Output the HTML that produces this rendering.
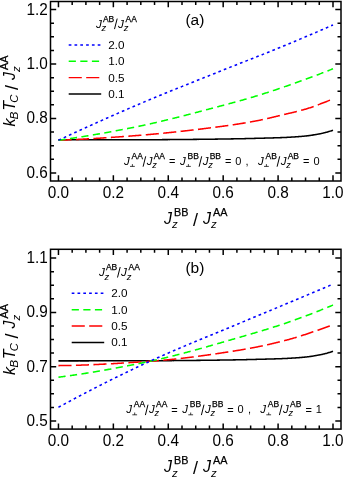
<!DOCTYPE html>
<html lang="en">
<head>
<meta charset="utf-8">
<title>Tc versus Jz ratio</title>
<style>
html,body{margin:0;padding:0;background:#fff;}
body{width:343px;height:477px;overflow:hidden;font-family:"Liberation Sans", sans-serif;}
svg{display:block;will-change:transform;}
</style>
</head>
<body>
<svg width="343" height="477" viewBox="0 0 343 477" font-family='"Liberation Sans", sans-serif' fill="#000">
<rect width="343" height="477" fill="#fff"/>
<path d="M58.45 139.83 L59.14 139.83 L59.83 139.83 L60.51 139.83 L61.20 139.83 L61.89 139.83 L62.58 139.83 L63.27 139.83 L63.95 139.83 L64.64 139.83 L65.33 139.83 L66.02 139.83 L66.71 139.83 L67.40 139.83 L68.08 139.83 L68.77 139.83 L69.46 139.83 L70.15 139.83 L70.84 139.83 L71.52 139.83 L72.21 139.83 L72.90 139.83 L73.59 139.83 L74.28 139.83 L74.96 139.83 L75.65 139.83 L76.34 139.83 L77.03 139.83 L77.72 139.82 L78.40 139.82 L79.09 139.82 L79.78 139.82 L80.47 139.82 L81.16 139.82 L81.85 139.82 L82.53 139.82 L83.22 139.82 L83.91 139.82 L84.60 139.82 L85.29 139.82 L85.97 139.82 L86.66 139.82 L87.35 139.82 L88.04 139.82 L88.73 139.81 L89.41 139.81 L90.10 139.81 L90.79 139.81 L91.48 139.81 L92.17 139.81 L92.85 139.81 L93.54 139.81 L94.23 139.81 L94.92 139.81 L95.61 139.81 L96.30 139.81 L96.98 139.80 L97.67 139.80 L98.36 139.80 L99.05 139.80 L99.74 139.80 L100.42 139.80 L101.11 139.80 L101.80 139.80 L102.49 139.80 L103.18 139.80 L103.86 139.79 L104.55 139.79 L105.24 139.79 L105.93 139.79 L106.62 139.79 L107.30 139.79 L107.99 139.79 L108.68 139.79 L109.37 139.79 L110.06 139.78 L110.75 139.78 L111.43 139.78 L112.12 139.78 L112.81 139.78 L113.50 139.78 L114.19 139.78 L114.87 139.78 L115.56 139.77 L116.25 139.77 L116.94 139.77 L117.63 139.77 L118.31 139.77 L119.00 139.77 L119.69 139.77 L120.38 139.76 L121.07 139.76 L121.75 139.76 L122.44 139.76 L123.13 139.76 L123.82 139.76 L124.51 139.76 L125.20 139.75 L125.88 139.75 L126.57 139.75 L127.26 139.75 L127.95 139.75 L128.64 139.75 L129.32 139.75 L130.01 139.74 L130.70 139.74 L131.39 139.74 L132.08 139.74 L132.76 139.74 L133.45 139.74 L134.14 139.74 L134.83 139.73 L135.52 139.73 L136.20 139.73 L136.89 139.73 L137.58 139.73 L138.27 139.73 L138.96 139.72 L139.65 139.72 L140.33 139.72 L141.02 139.72 L141.71 139.72 L142.40 139.71 L143.09 139.71 L143.77 139.71 L144.46 139.71 L145.15 139.71 L145.84 139.71 L146.53 139.70 L147.21 139.70 L147.90 139.70 L148.59 139.70 L149.28 139.70 L149.97 139.70 L150.65 139.69 L151.34 139.69 L152.03 139.69 L152.72 139.69 L153.41 139.68 L154.10 139.68 L154.78 139.68 L155.47 139.68 L156.16 139.67 L156.85 139.67 L157.54 139.67 L158.22 139.66 L158.91 139.66 L159.60 139.66 L160.29 139.65 L160.98 139.65 L161.66 139.65 L162.35 139.64 L163.04 139.64 L163.73 139.63 L164.42 139.63 L165.10 139.63 L165.79 139.62 L166.48 139.62 L167.17 139.61 L167.86 139.61 L168.55 139.60 L169.23 139.60 L169.92 139.59 L170.61 139.59 L171.30 139.58 L171.99 139.58 L172.67 139.57 L173.36 139.57 L174.05 139.56 L174.74 139.56 L175.43 139.55 L176.11 139.55 L176.80 139.54 L177.49 139.53 L178.18 139.53 L178.87 139.52 L179.55 139.52 L180.24 139.51 L180.93 139.51 L181.62 139.50 L182.31 139.49 L183.00 139.49 L183.68 139.48 L184.37 139.47 L185.06 139.47 L185.75 139.46 L186.44 139.46 L187.12 139.45 L187.81 139.44 L188.50 139.44 L189.19 139.43 L189.88 139.42 L190.56 139.42 L191.25 139.41 L191.94 139.40 L192.63 139.40 L193.32 139.39 L194.00 139.39 L194.69 139.38 L195.38 139.37 L196.07 139.37 L196.76 139.36 L197.45 139.35 L198.13 139.35 L198.82 139.34 L199.51 139.33 L200.20 139.32 L200.89 139.32 L201.57 139.31 L202.26 139.30 L202.95 139.29 L203.64 139.29 L204.33 139.28 L205.01 139.27 L205.70 139.26 L206.39 139.25 L207.08 139.25 L207.77 139.24 L208.45 139.23 L209.14 139.22 L209.83 139.21 L210.52 139.20 L211.21 139.19 L211.90 139.19 L212.58 139.18 L213.27 139.17 L213.96 139.16 L214.65 139.15 L215.34 139.14 L216.02 139.13 L216.71 139.12 L217.40 139.11 L218.09 139.10 L218.78 139.09 L219.46 139.08 L220.15 139.07 L220.84 139.06 L221.53 139.05 L222.22 139.04 L222.90 139.03 L223.59 139.02 L224.28 139.01 L224.97 139.00 L225.66 138.98 L226.35 138.97 L227.03 138.96 L227.72 138.95 L228.41 138.94 L229.10 138.93 L229.79 138.92 L230.47 138.91 L231.16 138.89 L231.85 138.88 L232.54 138.87 L233.23 138.86 L233.91 138.85 L234.60 138.83 L235.29 138.82 L235.98 138.81 L236.67 138.80 L237.35 138.79 L238.04 138.77 L238.73 138.76 L239.42 138.75 L240.11 138.73 L240.80 138.72 L241.48 138.71 L242.17 138.69 L242.86 138.68 L243.55 138.66 L244.24 138.65 L244.92 138.63 L245.61 138.62 L246.30 138.60 L246.99 138.58 L247.68 138.57 L248.36 138.55 L249.05 138.53 L249.74 138.52 L250.43 138.50 L251.12 138.48 L251.80 138.46 L252.49 138.44 L253.18 138.43 L253.87 138.41 L254.56 138.39 L255.25 138.37 L255.93 138.35 L256.62 138.34 L257.31 138.32 L258.00 138.30 L258.69 138.28 L259.37 138.26 L260.06 138.25 L260.75 138.23 L261.44 138.21 L262.13 138.19 L262.81 138.18 L263.50 138.16 L264.19 138.14 L264.88 138.12 L265.57 138.10 L266.25 138.09 L266.94 138.07 L267.63 138.05 L268.32 138.03 L269.01 138.01 L269.70 137.99 L270.38 137.97 L271.07 137.95 L271.76 137.93 L272.45 137.91 L273.14 137.89 L273.82 137.87 L274.51 137.85 L275.20 137.83 L275.89 137.81 L276.58 137.78 L277.26 137.76 L277.95 137.74 L278.64 137.71 L279.33 137.69 L280.02 137.66 L280.70 137.64 L281.39 137.61 L282.08 137.58 L282.77 137.56 L283.46 137.53 L284.15 137.50 L284.83 137.46 L285.52 137.43 L286.21 137.40 L286.90 137.37 L287.59 137.33 L288.27 137.29 L288.96 137.26 L289.65 137.22 L290.34 137.18 L291.03 137.14 L291.71 137.10 L292.40 137.06 L293.09 137.01 L293.78 136.97 L294.47 136.93 L295.15 136.88 L295.84 136.83 L296.53 136.79 L297.22 136.74 L297.91 136.69 L298.60 136.63 L299.28 136.58 L299.97 136.52 L300.66 136.47 L301.35 136.41 L302.04 136.35 L302.72 136.28 L303.41 136.22 L304.10 136.15 L304.79 136.08 L305.48 136.01 L306.16 135.94 L306.85 135.86 L307.54 135.78 L308.23 135.70 L308.92 135.61 L309.60 135.52 L310.29 135.42 L310.98 135.32 L311.67 135.22 L312.36 135.11 L313.05 135.00 L313.73 134.89 L314.42 134.77 L315.11 134.66 L315.80 134.54 L316.49 134.41 L317.17 134.29 L317.86 134.16 L318.55 134.03 L319.24 133.91 L319.93 133.77 L320.61 133.64 L321.30 133.49 L321.99 133.35 L322.68 133.19 L323.37 133.04 L324.05 132.87 L324.74 132.70 L325.43 132.53 L326.12 132.35 L326.81 132.17 L327.50 131.97 L328.18 131.77 L328.87 131.56 L329.56 131.35 L330.25 131.12 L330.94 130.89 L331.62 130.66 L332.31 130.42 L333.00 130.17" fill="none" stroke="#000000" stroke-width="1.55"/>
<path d="M58.45 140.24 L59.14 140.21 L59.83 140.19 L60.51 140.16 L61.20 140.14 L61.89 140.11 L62.58 140.08 L63.27 140.05 L63.95 140.02 L64.64 140.00 L65.33 139.97 L66.02 139.94 L66.71 139.91 L67.40 139.88 L68.08 139.85 L68.77 139.82 L69.46 139.79 L70.15 139.76 L70.84 139.73 L71.52 139.69 L72.21 139.66 L72.90 139.63 L73.59 139.60 L74.28 139.56 L74.96 139.53 L75.65 139.50 L76.34 139.46 L77.03 139.43 L77.72 139.40 L78.40 139.36 L79.09 139.33 L79.78 139.29 L80.47 139.26 L81.16 139.22 L81.85 139.18 L82.53 139.15 L83.22 139.11 L83.91 139.07 L84.60 139.04 L85.29 139.00 L85.97 138.96 L86.66 138.92 L87.35 138.88 L88.04 138.85 L88.73 138.81 L89.41 138.77 L90.10 138.73 L90.79 138.69 L91.48 138.65 L92.17 138.61 L92.85 138.57 L93.54 138.53 L94.23 138.49 L94.92 138.44 L95.61 138.40 L96.30 138.36 L96.98 138.32 L97.67 138.28 L98.36 138.23 L99.05 138.19 L99.74 138.15 L100.42 138.11 L101.11 138.06 L101.80 138.02 L102.49 137.97 L103.18 137.93 L103.86 137.89 L104.55 137.84 L105.24 137.80 L105.93 137.75 L106.62 137.71 L107.30 137.66 L107.99 137.62 L108.68 137.57 L109.37 137.52 L110.06 137.48 L110.75 137.43 L111.43 137.39 L112.12 137.34 L112.81 137.29 L113.50 137.24 L114.19 137.20 L114.87 137.15 L115.56 137.10 L116.25 137.05 L116.94 137.00 L117.63 136.96 L118.31 136.91 L119.00 136.86 L119.69 136.81 L120.38 136.76 L121.07 136.71 L121.75 136.66 L122.44 136.61 L123.13 136.56 L123.82 136.51 L124.51 136.46 L125.20 136.41 L125.88 136.36 L126.57 136.31 L127.26 136.26 L127.95 136.21 L128.64 136.16 L129.32 136.11 L130.01 136.06 L130.70 136.00 L131.39 135.95 L132.08 135.90 L132.76 135.85 L133.45 135.80 L134.14 135.75 L134.83 135.69 L135.52 135.64 L136.20 135.59 L136.89 135.53 L137.58 135.48 L138.27 135.43 L138.96 135.37 L139.65 135.32 L140.33 135.26 L141.02 135.21 L141.71 135.15 L142.40 135.10 L143.09 135.04 L143.77 134.98 L144.46 134.92 L145.15 134.87 L145.84 134.81 L146.53 134.75 L147.21 134.69 L147.90 134.63 L148.59 134.57 L149.28 134.51 L149.97 134.45 L150.65 134.39 L151.34 134.33 L152.03 134.27 L152.72 134.20 L153.41 134.14 L154.10 134.08 L154.78 134.01 L155.47 133.95 L156.16 133.89 L156.85 133.82 L157.54 133.76 L158.22 133.69 L158.91 133.63 L159.60 133.56 L160.29 133.50 L160.98 133.43 L161.66 133.36 L162.35 133.29 L163.04 133.23 L163.73 133.16 L164.42 133.09 L165.10 133.02 L165.79 132.95 L166.48 132.88 L167.17 132.81 L167.86 132.74 L168.55 132.67 L169.23 132.60 L169.92 132.53 L170.61 132.46 L171.30 132.39 L171.99 132.32 L172.67 132.25 L173.36 132.17 L174.05 132.10 L174.74 132.03 L175.43 131.95 L176.11 131.88 L176.80 131.81 L177.49 131.73 L178.18 131.66 L178.87 131.58 L179.55 131.51 L180.24 131.43 L180.93 131.35 L181.62 131.28 L182.31 131.20 L183.00 131.12 L183.68 131.05 L184.37 130.97 L185.06 130.89 L185.75 130.81 L186.44 130.73 L187.12 130.66 L187.81 130.58 L188.50 130.50 L189.19 130.42 L189.88 130.34 L190.56 130.26 L191.25 130.18 L191.94 130.10 L192.63 130.02 L193.32 129.93 L194.00 129.85 L194.69 129.77 L195.38 129.69 L196.07 129.61 L196.76 129.53 L197.45 129.44 L198.13 129.36 L198.82 129.28 L199.51 129.19 L200.20 129.11 L200.89 129.02 L201.57 128.94 L202.26 128.86 L202.95 128.77 L203.64 128.69 L204.33 128.60 L205.01 128.52 L205.70 128.43 L206.39 128.34 L207.08 128.26 L207.77 128.17 L208.45 128.08 L209.14 128.00 L209.83 127.91 L210.52 127.82 L211.21 127.74 L211.90 127.65 L212.58 127.56 L213.27 127.47 L213.96 127.38 L214.65 127.29 L215.34 127.21 L216.02 127.12 L216.71 127.03 L217.40 126.94 L218.09 126.85 L218.78 126.76 L219.46 126.67 L220.15 126.58 L220.84 126.49 L221.53 126.40 L222.22 126.31 L222.90 126.21 L223.59 126.12 L224.28 126.03 L224.97 125.93 L225.66 125.84 L226.35 125.75 L227.03 125.65 L227.72 125.55 L228.41 125.46 L229.10 125.36 L229.79 125.26 L230.47 125.16 L231.16 125.06 L231.85 124.96 L232.54 124.86 L233.23 124.76 L233.91 124.66 L234.60 124.55 L235.29 124.45 L235.98 124.34 L236.67 124.24 L237.35 124.13 L238.04 124.02 L238.73 123.91 L239.42 123.81 L240.11 123.70 L240.80 123.59 L241.48 123.47 L242.17 123.36 L242.86 123.25 L243.55 123.14 L244.24 123.02 L244.92 122.91 L245.61 122.79 L246.30 122.67 L246.99 122.56 L247.68 122.44 L248.36 122.32 L249.05 122.20 L249.74 122.08 L250.43 121.95 L251.12 121.83 L251.80 121.71 L252.49 121.58 L253.18 121.46 L253.87 121.33 L254.56 121.20 L255.25 121.08 L255.93 120.95 L256.62 120.82 L257.31 120.69 L258.00 120.55 L258.69 120.42 L259.37 120.28 L260.06 120.14 L260.75 119.99 L261.44 119.85 L262.13 119.70 L262.81 119.55 L263.50 119.40 L264.19 119.25 L264.88 119.10 L265.57 118.94 L266.25 118.78 L266.94 118.62 L267.63 118.47 L268.32 118.31 L269.01 118.14 L269.70 117.98 L270.38 117.82 L271.07 117.65 L271.76 117.49 L272.45 117.32 L273.14 117.16 L273.82 116.99 L274.51 116.82 L275.20 116.66 L275.89 116.49 L276.58 116.32 L277.26 116.15 L277.95 115.99 L278.64 115.82 L279.33 115.65 L280.02 115.49 L280.70 115.32 L281.39 115.16 L282.08 114.99 L282.77 114.83 L283.46 114.66 L284.15 114.50 L284.83 114.34 L285.52 114.18 L286.21 114.02 L286.90 113.85 L287.59 113.69 L288.27 113.53 L288.96 113.37 L289.65 113.21 L290.34 113.05 L291.03 112.88 L291.71 112.72 L292.40 112.56 L293.09 112.39 L293.78 112.23 L294.47 112.06 L295.15 111.89 L295.84 111.72 L296.53 111.55 L297.22 111.38 L297.91 111.21 L298.60 111.03 L299.28 110.85 L299.97 110.67 L300.66 110.49 L301.35 110.31 L302.04 110.12 L302.72 109.93 L303.41 109.74 L304.10 109.55 L304.79 109.35 L305.48 109.15 L306.16 108.95 L306.85 108.74 L307.54 108.53 L308.23 108.32 L308.92 108.10 L309.60 107.87 L310.29 107.64 L310.98 107.41 L311.67 107.17 L312.36 106.93 L313.05 106.69 L313.73 106.44 L314.42 106.19 L315.11 105.93 L315.80 105.68 L316.49 105.42 L317.17 105.16 L317.86 104.90 L318.55 104.63 L319.24 104.37 L319.93 104.10 L320.61 103.83 L321.30 103.56 L321.99 103.29 L322.68 103.02 L323.37 102.75 L324.05 102.48 L324.74 102.21 L325.43 101.95 L326.12 101.68 L326.81 101.41 L327.50 101.14 L328.18 100.88 L328.87 100.61 L329.56 100.35 L330.25 100.08 L330.94 99.82 L331.62 99.55 L332.31 99.28 L333.00 99.01" fill="none" stroke="#ff0000" stroke-width="1.55" stroke-dasharray="13.1 4.4"/>
<path d="M58.45 140.24 L59.14 140.15 L59.83 140.05 L60.51 139.96 L61.20 139.86 L61.89 139.76 L62.58 139.67 L63.27 139.57 L63.95 139.47 L64.64 139.37 L65.33 139.27 L66.02 139.17 L66.71 139.07 L67.40 138.97 L68.08 138.87 L68.77 138.77 L69.46 138.67 L70.15 138.57 L70.84 138.47 L71.52 138.36 L72.21 138.26 L72.90 138.16 L73.59 138.05 L74.28 137.95 L74.96 137.84 L75.65 137.74 L76.34 137.63 L77.03 137.52 L77.72 137.42 L78.40 137.31 L79.09 137.20 L79.78 137.09 L80.47 136.98 L81.16 136.87 L81.85 136.76 L82.53 136.65 L83.22 136.54 L83.91 136.43 L84.60 136.32 L85.29 136.21 L85.97 136.09 L86.66 135.98 L87.35 135.87 L88.04 135.75 L88.73 135.64 L89.41 135.53 L90.10 135.41 L90.79 135.29 L91.48 135.18 L92.17 135.06 L92.85 134.95 L93.54 134.83 L94.23 134.71 L94.92 134.59 L95.61 134.48 L96.30 134.36 L96.98 134.24 L97.67 134.12 L98.36 134.00 L99.05 133.88 L99.74 133.76 L100.42 133.64 L101.11 133.51 L101.80 133.39 L102.49 133.27 L103.18 133.15 L103.86 133.02 L104.55 132.90 L105.24 132.78 L105.93 132.65 L106.62 132.53 L107.30 132.40 L107.99 132.28 L108.68 132.15 L109.37 132.03 L110.06 131.90 L110.75 131.77 L111.43 131.65 L112.12 131.52 L112.81 131.39 L113.50 131.26 L114.19 131.13 L114.87 131.00 L115.56 130.87 L116.25 130.74 L116.94 130.61 L117.63 130.48 L118.31 130.35 L119.00 130.22 L119.69 130.09 L120.38 129.96 L121.07 129.83 L121.75 129.69 L122.44 129.56 L123.13 129.43 L123.82 129.29 L124.51 129.16 L125.20 129.03 L125.88 128.89 L126.57 128.76 L127.26 128.62 L127.95 128.49 L128.64 128.35 L129.32 128.22 L130.01 128.08 L130.70 127.94 L131.39 127.80 L132.08 127.67 L132.76 127.53 L133.45 127.39 L134.14 127.25 L134.83 127.11 L135.52 126.98 L136.20 126.84 L136.89 126.70 L137.58 126.56 L138.27 126.41 L138.96 126.27 L139.65 126.13 L140.33 125.99 L141.02 125.84 L141.71 125.70 L142.40 125.55 L143.09 125.40 L143.77 125.26 L144.46 125.11 L145.15 124.96 L145.84 124.81 L146.53 124.66 L147.21 124.51 L147.90 124.36 L148.59 124.20 L149.28 124.05 L149.97 123.90 L150.65 123.74 L151.34 123.59 L152.03 123.43 L152.72 123.28 L153.41 123.12 L154.10 122.96 L154.78 122.81 L155.47 122.65 L156.16 122.49 L156.85 122.33 L157.54 122.17 L158.22 122.01 L158.91 121.85 L159.60 121.68 L160.29 121.52 L160.98 121.36 L161.66 121.20 L162.35 121.03 L163.04 120.87 L163.73 120.70 L164.42 120.54 L165.10 120.37 L165.79 120.20 L166.48 120.04 L167.17 119.87 L167.86 119.70 L168.55 119.53 L169.23 119.37 L169.92 119.20 L170.61 119.03 L171.30 118.86 L171.99 118.69 L172.67 118.52 L173.36 118.34 L174.05 118.17 L174.74 118.00 L175.43 117.83 L176.11 117.65 L176.80 117.48 L177.49 117.31 L178.18 117.13 L178.87 116.96 L179.55 116.78 L180.24 116.61 L180.93 116.43 L181.62 116.26 L182.31 116.08 L183.00 115.91 L183.68 115.73 L184.37 115.55 L185.06 115.38 L185.75 115.20 L186.44 115.02 L187.12 114.84 L187.81 114.66 L188.50 114.48 L189.19 114.31 L189.88 114.13 L190.56 113.95 L191.25 113.77 L191.94 113.59 L192.63 113.41 L193.32 113.23 L194.00 113.05 L194.69 112.87 L195.38 112.69 L196.07 112.51 L196.76 112.32 L197.45 112.14 L198.13 111.96 L198.82 111.78 L199.51 111.60 L200.20 111.42 L200.89 111.23 L201.57 111.05 L202.26 110.87 L202.95 110.69 L203.64 110.51 L204.33 110.32 L205.01 110.14 L205.70 109.96 L206.39 109.77 L207.08 109.59 L207.77 109.41 L208.45 109.23 L209.14 109.04 L209.83 108.86 L210.52 108.68 L211.21 108.49 L211.90 108.31 L212.58 108.13 L213.27 107.94 L213.96 107.76 L214.65 107.58 L215.34 107.39 L216.02 107.21 L216.71 107.03 L217.40 106.85 L218.09 106.66 L218.78 106.48 L219.46 106.30 L220.15 106.11 L220.84 105.93 L221.53 105.75 L222.22 105.57 L222.90 105.38 L223.59 105.20 L224.28 105.02 L224.97 104.83 L225.66 104.65 L226.35 104.47 L227.03 104.28 L227.72 104.10 L228.41 103.91 L229.10 103.73 L229.79 103.54 L230.47 103.35 L231.16 103.17 L231.85 102.98 L232.54 102.79 L233.23 102.61 L233.91 102.42 L234.60 102.23 L235.29 102.04 L235.98 101.85 L236.67 101.66 L237.35 101.47 L238.04 101.28 L238.73 101.09 L239.42 100.90 L240.11 100.71 L240.80 100.51 L241.48 100.32 L242.17 100.13 L242.86 99.93 L243.55 99.74 L244.24 99.54 L244.92 99.34 L245.61 99.15 L246.30 98.95 L246.99 98.75 L247.68 98.55 L248.36 98.35 L249.05 98.15 L249.74 97.95 L250.43 97.75 L251.12 97.54 L251.80 97.34 L252.49 97.14 L253.18 96.93 L253.87 96.73 L254.56 96.52 L255.25 96.31 L255.93 96.10 L256.62 95.89 L257.31 95.68 L258.00 95.47 L258.69 95.26 L259.37 95.05 L260.06 94.83 L260.75 94.62 L261.44 94.40 L262.13 94.19 L262.81 93.97 L263.50 93.75 L264.19 93.53 L264.88 93.31 L265.57 93.09 L266.25 92.87 L266.94 92.65 L267.63 92.42 L268.32 92.20 L269.01 91.97 L269.70 91.75 L270.38 91.52 L271.07 91.30 L271.76 91.07 L272.45 90.84 L273.14 90.61 L273.82 90.38 L274.51 90.15 L275.20 89.92 L275.89 89.69 L276.58 89.46 L277.26 89.22 L277.95 88.99 L278.64 88.76 L279.33 88.52 L280.02 88.29 L280.70 88.05 L281.39 87.82 L282.08 87.58 L282.77 87.34 L283.46 87.11 L284.15 86.87 L284.83 86.63 L285.52 86.39 L286.21 86.15 L286.90 85.91 L287.59 85.67 L288.27 85.43 L288.96 85.19 L289.65 84.95 L290.34 84.71 L291.03 84.47 L291.71 84.23 L292.40 83.98 L293.09 83.74 L293.78 83.50 L294.47 83.26 L295.15 83.01 L295.84 82.77 L296.53 82.52 L297.22 82.28 L297.91 82.03 L298.60 81.79 L299.28 81.54 L299.97 81.29 L300.66 81.04 L301.35 80.80 L302.04 80.55 L302.72 80.30 L303.41 80.05 L304.10 79.80 L304.79 79.54 L305.48 79.29 L306.16 79.04 L306.85 78.79 L307.54 78.53 L308.23 78.28 L308.92 78.03 L309.60 77.77 L310.29 77.52 L310.98 77.26 L311.67 77.00 L312.36 76.75 L313.05 76.49 L313.73 76.23 L314.42 75.97 L315.11 75.71 L315.80 75.45 L316.49 75.19 L317.17 74.93 L317.86 74.67 L318.55 74.41 L319.24 74.15 L319.93 73.88 L320.61 73.62 L321.30 73.36 L321.99 73.09 L322.68 72.83 L323.37 72.56 L324.05 72.30 L324.74 72.03 L325.43 71.76 L326.12 71.50 L326.81 71.23 L327.50 70.96 L328.18 70.69 L328.87 70.42 L329.56 70.15 L330.25 69.88 L330.94 69.61 L331.62 69.34 L332.31 69.07 L333.00 68.80" fill="none" stroke="#00ff00" stroke-width="1.55" stroke-dasharray="7.2 4.4"/>
<path d="M58.45 140.24 L59.14 139.92 L59.83 139.60 L60.51 139.27 L61.20 138.95 L61.89 138.63 L62.58 138.31 L63.27 137.99 L63.95 137.67 L64.64 137.35 L65.33 137.03 L66.02 136.71 L66.71 136.39 L67.40 136.07 L68.08 135.75 L68.77 135.43 L69.46 135.11 L70.15 134.79 L70.84 134.47 L71.52 134.16 L72.21 133.84 L72.90 133.52 L73.59 133.20 L74.28 132.89 L74.96 132.57 L75.65 132.25 L76.34 131.94 L77.03 131.62 L77.72 131.30 L78.40 130.99 L79.09 130.67 L79.78 130.36 L80.47 130.04 L81.16 129.73 L81.85 129.41 L82.53 129.10 L83.22 128.78 L83.91 128.47 L84.60 128.16 L85.29 127.84 L85.97 127.53 L86.66 127.22 L87.35 126.91 L88.04 126.59 L88.73 126.28 L89.41 125.97 L90.10 125.66 L90.79 125.35 L91.48 125.03 L92.17 124.72 L92.85 124.41 L93.54 124.10 L94.23 123.79 L94.92 123.48 L95.61 123.17 L96.30 122.86 L96.98 122.55 L97.67 122.25 L98.36 121.94 L99.05 121.63 L99.74 121.32 L100.42 121.01 L101.11 120.71 L101.80 120.40 L102.49 120.09 L103.18 119.78 L103.86 119.48 L104.55 119.17 L105.24 118.86 L105.93 118.56 L106.62 118.25 L107.30 117.95 L107.99 117.64 L108.68 117.34 L109.37 117.03 L110.06 116.73 L110.75 116.43 L111.43 116.12 L112.12 115.82 L112.81 115.52 L113.50 115.21 L114.19 114.91 L114.87 114.61 L115.56 114.31 L116.25 114.00 L116.94 113.70 L117.63 113.40 L118.31 113.10 L119.00 112.80 L119.69 112.50 L120.38 112.20 L121.07 111.90 L121.75 111.60 L122.44 111.30 L123.13 111.00 L123.82 110.70 L124.51 110.40 L125.20 110.10 L125.88 109.81 L126.57 109.51 L127.26 109.21 L127.95 108.91 L128.64 108.62 L129.32 108.32 L130.01 108.02 L130.70 107.73 L131.39 107.43 L132.08 107.14 L132.76 106.84 L133.45 106.55 L134.14 106.25 L134.83 105.96 L135.52 105.66 L136.20 105.37 L136.89 105.08 L137.58 104.78 L138.27 104.49 L138.96 104.20 L139.65 103.91 L140.33 103.62 L141.02 103.32 L141.71 103.03 L142.40 102.74 L143.09 102.45 L143.77 102.16 L144.46 101.87 L145.15 101.58 L145.84 101.30 L146.53 101.01 L147.21 100.72 L147.90 100.43 L148.59 100.14 L149.28 99.86 L149.97 99.57 L150.65 99.28 L151.34 99.00 L152.03 98.71 L152.72 98.43 L153.41 98.14 L154.10 97.86 L154.78 97.57 L155.47 97.29 L156.16 97.00 L156.85 96.72 L157.54 96.43 L158.22 96.15 L158.91 95.87 L159.60 95.58 L160.29 95.30 L160.98 95.02 L161.66 94.74 L162.35 94.46 L163.04 94.17 L163.73 93.89 L164.42 93.61 L165.10 93.33 L165.79 93.05 L166.48 92.77 L167.17 92.49 L167.86 92.21 L168.55 91.93 L169.23 91.65 L169.92 91.37 L170.61 91.09 L171.30 90.81 L171.99 90.53 L172.67 90.25 L173.36 89.97 L174.05 89.70 L174.74 89.42 L175.43 89.14 L176.11 88.86 L176.80 88.58 L177.49 88.31 L178.18 88.03 L178.87 87.75 L179.55 87.47 L180.24 87.20 L180.93 86.92 L181.62 86.64 L182.31 86.37 L183.00 86.09 L183.68 85.81 L184.37 85.54 L185.06 85.26 L185.75 84.98 L186.44 84.71 L187.12 84.43 L187.81 84.16 L188.50 83.88 L189.19 83.61 L189.88 83.33 L190.56 83.05 L191.25 82.78 L191.94 82.50 L192.63 82.23 L193.32 81.95 L194.00 81.68 L194.69 81.40 L195.38 81.13 L196.07 80.85 L196.76 80.58 L197.45 80.30 L198.13 80.03 L198.82 79.75 L199.51 79.48 L200.20 79.20 L200.89 78.93 L201.57 78.65 L202.26 78.38 L202.95 78.11 L203.64 77.83 L204.33 77.56 L205.01 77.28 L205.70 77.01 L206.39 76.73 L207.08 76.46 L207.77 76.18 L208.45 75.91 L209.14 75.63 L209.83 75.36 L210.52 75.08 L211.21 74.81 L211.90 74.53 L212.58 74.26 L213.27 73.98 L213.96 73.71 L214.65 73.43 L215.34 73.16 L216.02 72.88 L216.71 72.61 L217.40 72.33 L218.09 72.06 L218.78 71.78 L219.46 71.50 L220.15 71.23 L220.84 70.95 L221.53 70.68 L222.22 70.40 L222.90 70.13 L223.59 69.85 L224.28 69.58 L224.97 69.30 L225.66 69.03 L226.35 68.75 L227.03 68.48 L227.72 68.21 L228.41 67.93 L229.10 67.66 L229.79 67.39 L230.47 67.11 L231.16 66.84 L231.85 66.57 L232.54 66.30 L233.23 66.03 L233.91 65.76 L234.60 65.49 L235.29 65.22 L235.98 64.94 L236.67 64.67 L237.35 64.40 L238.04 64.13 L238.73 63.86 L239.42 63.59 L240.11 63.32 L240.80 63.05 L241.48 62.78 L242.17 62.51 L242.86 62.24 L243.55 61.97 L244.24 61.71 L244.92 61.44 L245.61 61.17 L246.30 60.90 L246.99 60.63 L247.68 60.36 L248.36 60.09 L249.05 59.82 L249.74 59.55 L250.43 59.28 L251.12 59.01 L251.80 58.74 L252.49 58.47 L253.18 58.20 L253.87 57.93 L254.56 57.66 L255.25 57.39 L255.93 57.12 L256.62 56.85 L257.31 56.57 L258.00 56.30 L258.69 56.03 L259.37 55.76 L260.06 55.49 L260.75 55.22 L261.44 54.94 L262.13 54.67 L262.81 54.40 L263.50 54.12 L264.19 53.85 L264.88 53.58 L265.57 53.30 L266.25 53.03 L266.94 52.75 L267.63 52.48 L268.32 52.20 L269.01 51.93 L269.70 51.65 L270.38 51.38 L271.07 51.10 L271.76 50.82 L272.45 50.54 L273.14 50.26 L273.82 49.99 L274.51 49.71 L275.20 49.43 L275.89 49.15 L276.58 48.87 L277.26 48.59 L277.95 48.30 L278.64 48.02 L279.33 47.74 L280.02 47.46 L280.70 47.17 L281.39 46.89 L282.08 46.61 L282.77 46.32 L283.46 46.04 L284.15 45.76 L284.83 45.47 L285.52 45.19 L286.21 44.90 L286.90 44.62 L287.59 44.33 L288.27 44.05 L288.96 43.76 L289.65 43.48 L290.34 43.19 L291.03 42.90 L291.71 42.62 L292.40 42.33 L293.09 42.04 L293.78 41.75 L294.47 41.47 L295.15 41.18 L295.84 40.89 L296.53 40.60 L297.22 40.31 L297.91 40.02 L298.60 39.74 L299.28 39.45 L299.97 39.16 L300.66 38.87 L301.35 38.58 L302.04 38.29 L302.72 38.00 L303.41 37.70 L304.10 37.41 L304.79 37.12 L305.48 36.83 L306.16 36.54 L306.85 36.25 L307.54 35.95 L308.23 35.66 L308.92 35.37 L309.60 35.08 L310.29 34.78 L310.98 34.49 L311.67 34.20 L312.36 33.90 L313.05 33.61 L313.73 33.31 L314.42 33.02 L315.11 32.72 L315.80 32.43 L316.49 32.13 L317.17 31.84 L317.86 31.54 L318.55 31.25 L319.24 30.95 L319.93 30.65 L320.61 30.36 L321.30 30.06 L321.99 29.76 L322.68 29.47 L323.37 29.17 L324.05 28.87 L324.74 28.57 L325.43 28.27 L326.12 27.97 L326.81 27.68 L327.50 27.38 L328.18 27.08 L328.87 26.78 L329.56 26.48 L330.25 26.18 L330.94 25.88 L331.62 25.58 L332.31 25.28 L333.00 24.98" fill="none" stroke="#0000ff" stroke-width="1.55" stroke-dasharray="2.7 3.1"/>
<rect x="50.5" y="1.5" width="290.5" height="179.5" fill="none" stroke="#000" stroke-width="1.5"/>
<path d="M58.45 181.0v-5.7M58.45 1.5v5.7M72.18 181.0v-3.5M72.18 1.5v3.5M85.91 181.0v-3.5M85.91 1.5v3.5M99.63 181.0v-3.5M99.63 1.5v3.5M113.36 181.0v-5.7M113.36 1.5v5.7M127.09 181.0v-3.5M127.09 1.5v3.5M140.81 181.0v-3.5M140.81 1.5v3.5M154.54 181.0v-3.5M154.54 1.5v3.5M168.27 181.0v-5.7M168.27 1.5v5.7M182.00 181.0v-3.5M182.00 1.5v3.5M195.73 181.0v-3.5M195.73 1.5v3.5M209.45 181.0v-3.5M209.45 1.5v3.5M223.18 181.0v-5.7M223.18 1.5v5.7M236.91 181.0v-3.5M236.91 1.5v3.5M250.64 181.0v-3.5M250.64 1.5v3.5M264.36 181.0v-3.5M264.36 1.5v3.5M278.09 181.0v-5.7M278.09 1.5v5.7M291.82 181.0v-3.5M291.82 1.5v3.5M305.55 181.0v-3.5M305.55 1.5v3.5M319.27 181.0v-3.5M319.27 1.5v3.5M333.00 181.0v-5.7M333.00 1.5v5.7M50.5 172.90h5.7M341.0 172.90h-5.7M50.5 159.29h3.5M341.0 159.29h-3.5M50.5 145.68h3.5M341.0 145.68h-3.5M50.5 132.07h3.5M341.0 132.07h-3.5M50.5 118.47h5.7M341.0 118.47h-5.7M50.5 104.86h3.5M341.0 104.86h-3.5M50.5 91.25h3.5M341.0 91.25h-3.5M50.5 77.64h3.5M341.0 77.64h-3.5M50.5 64.03h5.7M341.0 64.03h-5.7M50.5 50.42h3.5M341.0 50.42h-3.5M50.5 36.82h3.5M341.0 36.82h-3.5M50.5 23.21h3.5M341.0 23.21h-3.5M50.5 9.60h5.7M341.0 9.60h-5.7" stroke="#000" stroke-width="1.5" fill="none"/>
<text x="47.70" y="14.60" font-size="16" text-anchor="end" textLength="21.3" lengthAdjust="spacingAndGlyphs">1.2</text>
<text x="47.70" y="69.03" font-size="16" text-anchor="end" textLength="21.3" lengthAdjust="spacingAndGlyphs">1.0</text>
<text x="47.70" y="123.47" font-size="16" text-anchor="end" textLength="21.3" lengthAdjust="spacingAndGlyphs">0.8</text>
<text x="47.70" y="177.90" font-size="16" text-anchor="end" textLength="21.3" lengthAdjust="spacingAndGlyphs">0.6</text>
<text x="58.45" y="197.80" font-size="16" text-anchor="middle" textLength="21.3" lengthAdjust="spacingAndGlyphs">0.0</text>
<text x="113.36" y="197.80" font-size="16" text-anchor="middle" textLength="21.3" lengthAdjust="spacingAndGlyphs">0.2</text>
<text x="168.27" y="197.80" font-size="16" text-anchor="middle" textLength="21.3" lengthAdjust="spacingAndGlyphs">0.4</text>
<text x="223.18" y="197.80" font-size="16" text-anchor="middle" textLength="21.3" lengthAdjust="spacingAndGlyphs">0.6</text>
<text x="278.09" y="197.80" font-size="16" text-anchor="middle" textLength="21.3" lengthAdjust="spacingAndGlyphs">0.8</text>
<text x="333.00" y="197.80" font-size="16" text-anchor="middle" textLength="21.3" lengthAdjust="spacingAndGlyphs">1.0</text>
<g transform="translate(15.4 126.50) rotate(-90)">
<text x="0.00" y="0.00" font-size="16" font-style="italic">k</text>
<text x="7.30" y="2.40" font-size="11.4" font-style="italic">B</text>
<text x="15.70" y="0.00" font-size="16" font-style="italic">T</text>
<text x="23.70" y="2.40" font-size="11.4" font-style="italic">C</text>
<text x="36.50" y="2.20" font-size="18">/</text>
<text x="46.40" y="0.00" font-size="16" font-style="italic">J</text>
<text x="54.40" y="4.40" font-size="11.4" font-style="italic">z</text>
<text x="56.50" y="-7.90" font-size="10.8" stroke="#000" stroke-width="0.25">AA</text>
</g>
<text x="164.00" y="223.70" font-size="16" font-style="italic">J</text>
<text x="172.00" y="228.10" font-size="11.4" font-style="italic">z</text>
<text x="174.10" y="215.80" font-size="10.8" stroke="#000" stroke-width="0.25">BB</text>
<text x="193.00" y="225.90" font-size="18">/</text>
<text x="202.90" y="223.70" font-size="16" font-style="italic">J</text>
<text x="210.90" y="228.10" font-size="11.4" font-style="italic">z</text>
<text x="213.00" y="215.80" font-size="10.8" stroke="#000" stroke-width="0.25">AA</text>
<text x="194.90" y="24.60" font-size="15.5" text-anchor="middle">(a)</text>
<path d="M68.70 44.90H101.20" stroke="#0000ff" stroke-width="1.45" stroke-dasharray="2.7 3.1"/>
<text x="108.20" y="48.90" font-size="11.7">2.0</text>
<path d="M68.70 61.30H101.20" stroke="#00ff00" stroke-width="1.45" stroke-dasharray="7.2 4.4"/>
<text x="108.20" y="65.30" font-size="11.7">1.0</text>
<path d="M68.70 77.60H101.20" stroke="#ff0000" stroke-width="1.45" stroke-dasharray="13.1 4.4"/>
<text x="108.20" y="81.60" font-size="11.7">0.5</text>
<path d="M68.70 94.00H101.20" stroke="#000000" stroke-width="1.45"/>
<text x="108.20" y="98.00" font-size="11.7">0.1</text>
<text x="95.90" y="27.90" font-size="11.8" font-style="italic">J</text>
<text x="101.50" y="31.30" font-size="9.4" font-style="italic">z</text>
<text x="102.90" y="21.50" font-size="8.5" stroke="#000" stroke-width="0.25">AB</text>
<path d="M117.20 18.60L114.50 29.10" stroke="#000" stroke-width="1.0"/>
<text x="118.10" y="27.90" font-size="11.8" font-style="italic">J</text>
<text x="123.80" y="31.30" font-size="9.4" font-style="italic">z</text>
<text x="125.50" y="21.50" font-size="8.5" stroke="#000" stroke-width="0.25">AA</text>
<g transform="translate(0.0 0)">
<text x="123.90" y="164.80" font-size="11.5" font-style="italic">J</text>
<path d="M130.00 166.40H134.80M132.40 166.40V164.10" stroke="#000" stroke-width="0.75" fill="none"/>
<text x="131.50" y="158.90" font-size="8.5" stroke="#000" stroke-width="0.25">AA</text>
<path d="M145.70 156.30L143.10 166.70" stroke="#000" stroke-width="1.0"/>
<text x="146.70" y="164.80" font-size="11.5" font-style="italic">J</text>
<text x="152.20" y="167.90" font-size="9.2" font-style="italic">z</text>
<text x="153.70" y="158.90" font-size="8.5" stroke="#000" stroke-width="0.25">AA</text>
<text x="169.00" y="165.10" font-size="11">=</text>
<text x="179.90" y="164.80" font-size="11.5" font-style="italic">J</text>
<path d="M186.00 166.40H190.80M188.40 166.40V164.10" stroke="#000" stroke-width="0.75" fill="none"/>
<text x="187.50" y="158.90" font-size="8.5" stroke="#000" stroke-width="0.25">BB</text>
<path d="M201.70 156.30L199.10 166.70" stroke="#000" stroke-width="1.0"/>
<text x="202.70" y="164.80" font-size="11.5" font-style="italic">J</text>
<text x="208.20" y="167.90" font-size="9.2" font-style="italic">z</text>
<text x="209.70" y="158.90" font-size="8.5" stroke="#000" stroke-width="0.25">BB</text>
<text x="225.00" y="165.10" font-size="11">=</text>
<text x="235.20" y="164.80" font-size="11">0</text>
<text x="245.60" y="164.80" font-size="11">,</text>
<text x="257.90" y="164.80" font-size="11.5" font-style="italic">J</text>
<path d="M264.00 166.40H268.80M266.40 166.40V164.10" stroke="#000" stroke-width="0.75" fill="none"/>
<text x="265.50" y="158.90" font-size="8.5" stroke="#000" stroke-width="0.25">AB</text>
<path d="M279.70 156.30L277.10 166.70" stroke="#000" stroke-width="1.0"/>
<text x="280.70" y="164.80" font-size="11.5" font-style="italic">J</text>
<text x="286.20" y="167.90" font-size="9.2" font-style="italic">z</text>
<text x="287.70" y="158.90" font-size="8.5" stroke="#000" stroke-width="0.25">AB</text>
<text x="303.10" y="165.10" font-size="11">=</text>
<text x="313.40" y="164.80" font-size="11">0</text>
</g>
<path d="M58.45 360.86 L59.14 360.86 L59.83 360.86 L60.51 360.86 L61.20 360.86 L61.89 360.86 L62.58 360.86 L63.27 360.86 L63.95 360.86 L64.64 360.86 L65.33 360.86 L66.02 360.86 L66.71 360.86 L67.40 360.86 L68.08 360.86 L68.77 360.86 L69.46 360.86 L70.15 360.86 L70.84 360.86 L71.52 360.86 L72.21 360.86 L72.90 360.86 L73.59 360.86 L74.28 360.86 L74.96 360.86 L75.65 360.86 L76.34 360.86 L77.03 360.86 L77.72 360.86 L78.40 360.86 L79.09 360.85 L79.78 360.85 L80.47 360.85 L81.16 360.85 L81.85 360.85 L82.53 360.85 L83.22 360.85 L83.91 360.85 L84.60 360.85 L85.29 360.85 L85.97 360.85 L86.66 360.85 L87.35 360.85 L88.04 360.85 L88.73 360.85 L89.41 360.84 L90.10 360.84 L90.79 360.84 L91.48 360.84 L92.17 360.84 L92.85 360.84 L93.54 360.84 L94.23 360.84 L94.92 360.84 L95.61 360.84 L96.30 360.84 L96.98 360.84 L97.67 360.83 L98.36 360.83 L99.05 360.83 L99.74 360.83 L100.42 360.83 L101.11 360.83 L101.80 360.83 L102.49 360.83 L103.18 360.83 L103.86 360.83 L104.55 360.82 L105.24 360.82 L105.93 360.82 L106.62 360.82 L107.30 360.82 L107.99 360.82 L108.68 360.82 L109.37 360.82 L110.06 360.82 L110.75 360.81 L111.43 360.81 L112.12 360.81 L112.81 360.81 L113.50 360.81 L114.19 360.81 L114.87 360.81 L115.56 360.81 L116.25 360.80 L116.94 360.80 L117.63 360.80 L118.31 360.80 L119.00 360.80 L119.69 360.80 L120.38 360.80 L121.07 360.79 L121.75 360.79 L122.44 360.79 L123.13 360.79 L123.82 360.79 L124.51 360.79 L125.20 360.79 L125.88 360.78 L126.57 360.78 L127.26 360.78 L127.95 360.78 L128.64 360.78 L129.32 360.78 L130.01 360.78 L130.70 360.77 L131.39 360.77 L132.08 360.77 L132.76 360.77 L133.45 360.77 L134.14 360.77 L134.83 360.76 L135.52 360.76 L136.20 360.76 L136.89 360.76 L137.58 360.76 L138.27 360.76 L138.96 360.75 L139.65 360.75 L140.33 360.75 L141.02 360.75 L141.71 360.75 L142.40 360.75 L143.09 360.74 L143.77 360.74 L144.46 360.74 L145.15 360.74 L145.84 360.74 L146.53 360.74 L147.21 360.73 L147.90 360.73 L148.59 360.73 L149.28 360.73 L149.97 360.73 L150.65 360.72 L151.34 360.72 L152.03 360.72 L152.72 360.72 L153.41 360.72 L154.10 360.71 L154.78 360.71 L155.47 360.71 L156.16 360.70 L156.85 360.70 L157.54 360.70 L158.22 360.70 L158.91 360.69 L159.60 360.69 L160.29 360.69 L160.98 360.68 L161.66 360.68 L162.35 360.67 L163.04 360.67 L163.73 360.67 L164.42 360.66 L165.10 360.66 L165.79 360.65 L166.48 360.65 L167.17 360.64 L167.86 360.64 L168.55 360.63 L169.23 360.63 L169.92 360.62 L170.61 360.62 L171.30 360.61 L171.99 360.61 L172.67 360.60 L173.36 360.60 L174.05 360.59 L174.74 360.59 L175.43 360.58 L176.11 360.58 L176.80 360.57 L177.49 360.57 L178.18 360.56 L178.87 360.55 L179.55 360.55 L180.24 360.54 L180.93 360.54 L181.62 360.53 L182.31 360.52 L183.00 360.52 L183.68 360.51 L184.37 360.51 L185.06 360.50 L185.75 360.49 L186.44 360.49 L187.12 360.48 L187.81 360.48 L188.50 360.47 L189.19 360.46 L189.88 360.46 L190.56 360.45 L191.25 360.44 L191.94 360.44 L192.63 360.43 L193.32 360.42 L194.00 360.42 L194.69 360.41 L195.38 360.40 L196.07 360.40 L196.76 360.39 L197.45 360.38 L198.13 360.38 L198.82 360.37 L199.51 360.36 L200.20 360.36 L200.89 360.35 L201.57 360.34 L202.26 360.33 L202.95 360.33 L203.64 360.32 L204.33 360.31 L205.01 360.30 L205.70 360.30 L206.39 360.29 L207.08 360.28 L207.77 360.27 L208.45 360.26 L209.14 360.25 L209.83 360.24 L210.52 360.24 L211.21 360.23 L211.90 360.22 L212.58 360.21 L213.27 360.20 L213.96 360.19 L214.65 360.18 L215.34 360.17 L216.02 360.16 L216.71 360.15 L217.40 360.14 L218.09 360.13 L218.78 360.12 L219.46 360.11 L220.15 360.10 L220.84 360.09 L221.53 360.08 L222.22 360.07 L222.90 360.06 L223.59 360.05 L224.28 360.04 L224.97 360.03 L225.66 360.02 L226.35 360.01 L227.03 360.00 L227.72 359.98 L228.41 359.97 L229.10 359.96 L229.79 359.95 L230.47 359.94 L231.16 359.93 L231.85 359.92 L232.54 359.90 L233.23 359.89 L233.91 359.88 L234.60 359.87 L235.29 359.86 L235.98 359.84 L236.67 359.83 L237.35 359.82 L238.04 359.81 L238.73 359.79 L239.42 359.78 L240.11 359.77 L240.80 359.75 L241.48 359.74 L242.17 359.73 L242.86 359.71 L243.55 359.70 L244.24 359.68 L244.92 359.67 L245.61 359.65 L246.30 359.63 L246.99 359.62 L247.68 359.60 L248.36 359.58 L249.05 359.57 L249.74 359.55 L250.43 359.53 L251.12 359.51 L251.80 359.50 L252.49 359.48 L253.18 359.46 L253.87 359.44 L254.56 359.43 L255.25 359.41 L255.93 359.39 L256.62 359.37 L257.31 359.35 L258.00 359.34 L258.69 359.32 L259.37 359.30 L260.06 359.28 L260.75 359.26 L261.44 359.25 L262.13 359.23 L262.81 359.21 L263.50 359.19 L264.19 359.18 L264.88 359.16 L265.57 359.14 L266.25 359.12 L266.94 359.10 L267.63 359.08 L268.32 359.07 L269.01 359.05 L269.70 359.03 L270.38 359.01 L271.07 358.99 L271.76 358.97 L272.45 358.95 L273.14 358.93 L273.82 358.91 L274.51 358.89 L275.20 358.86 L275.89 358.84 L276.58 358.82 L277.26 358.80 L277.95 358.77 L278.64 358.75 L279.33 358.72 L280.02 358.70 L280.70 358.67 L281.39 358.65 L282.08 358.62 L282.77 358.59 L283.46 358.56 L284.15 358.53 L284.83 358.50 L285.52 358.47 L286.21 358.44 L286.90 358.40 L287.59 358.37 L288.27 358.33 L288.96 358.29 L289.65 358.26 L290.34 358.22 L291.03 358.18 L291.71 358.14 L292.40 358.09 L293.09 358.05 L293.78 358.01 L294.47 357.96 L295.15 357.92 L295.84 357.87 L296.53 357.82 L297.22 357.77 L297.91 357.72 L298.60 357.67 L299.28 357.62 L299.97 357.56 L300.66 357.51 L301.35 357.45 L302.04 357.39 L302.72 357.32 L303.41 357.26 L304.10 357.19 L304.79 357.12 L305.48 357.05 L306.16 356.98 L306.85 356.90 L307.54 356.82 L308.23 356.74 L308.92 356.65 L309.60 356.56 L310.29 356.46 L310.98 356.36 L311.67 356.26 L312.36 356.15 L313.05 356.04 L313.73 355.93 L314.42 355.82 L315.11 355.70 L315.80 355.58 L316.49 355.46 L317.17 355.33 L317.86 355.21 L318.55 355.08 L319.24 354.95 L319.93 354.82 L320.61 354.68 L321.30 354.54 L321.99 354.39 L322.68 354.24 L323.37 354.08 L324.05 353.92 L324.74 353.75 L325.43 353.58 L326.12 353.40 L326.81 353.22 L327.50 353.02 L328.18 352.82 L328.87 352.61 L329.56 352.40 L330.25 352.18 L330.94 351.95 L331.62 351.71 L332.31 351.47 L333.00 351.22" fill="none" stroke="#000000" stroke-width="1.55"/>
<path d="M58.45 365.61 L59.14 365.61 L59.83 365.60 L60.51 365.59 L61.20 365.59 L61.89 365.58 L62.58 365.57 L63.27 365.56 L63.95 365.55 L64.64 365.54 L65.33 365.53 L66.02 365.51 L66.71 365.50 L67.40 365.49 L68.08 365.47 L68.77 365.46 L69.46 365.45 L70.15 365.43 L70.84 365.42 L71.52 365.40 L72.21 365.38 L72.90 365.37 L73.59 365.35 L74.28 365.33 L74.96 365.31 L75.65 365.29 L76.34 365.27 L77.03 365.25 L77.72 365.23 L78.40 365.21 L79.09 365.19 L79.78 365.17 L80.47 365.15 L81.16 365.12 L81.85 365.10 L82.53 365.08 L83.22 365.05 L83.91 365.03 L84.60 365.00 L85.29 364.98 L85.97 364.95 L86.66 364.92 L87.35 364.90 L88.04 364.87 L88.73 364.84 L89.41 364.82 L90.10 364.79 L90.79 364.76 L91.48 364.73 L92.17 364.70 L92.85 364.67 L93.54 364.64 L94.23 364.61 L94.92 364.58 L95.61 364.55 L96.30 364.52 L96.98 364.48 L97.67 364.45 L98.36 364.42 L99.05 364.38 L99.74 364.35 L100.42 364.32 L101.11 364.28 L101.80 364.25 L102.49 364.21 L103.18 364.18 L103.86 364.14 L104.55 364.11 L105.24 364.07 L105.93 364.04 L106.62 364.00 L107.30 363.96 L107.99 363.93 L108.68 363.89 L109.37 363.85 L110.06 363.81 L110.75 363.77 L111.43 363.73 L112.12 363.70 L112.81 363.66 L113.50 363.62 L114.19 363.58 L114.87 363.54 L115.56 363.50 L116.25 363.46 L116.94 363.42 L117.63 363.38 L118.31 363.33 L119.00 363.29 L119.69 363.25 L120.38 363.21 L121.07 363.17 L121.75 363.13 L122.44 363.08 L123.13 363.04 L123.82 363.00 L124.51 362.95 L125.20 362.91 L125.88 362.87 L126.57 362.82 L127.26 362.78 L127.95 362.74 L128.64 362.69 L129.32 362.65 L130.01 362.60 L130.70 362.56 L131.39 362.51 L132.08 362.47 L132.76 362.42 L133.45 362.38 L134.14 362.33 L134.83 362.29 L135.52 362.24 L136.20 362.20 L136.89 362.15 L137.58 362.11 L138.27 362.06 L138.96 362.01 L139.65 361.97 L140.33 361.92 L141.02 361.87 L141.71 361.83 L142.40 361.78 L143.09 361.73 L143.77 361.69 L144.46 361.64 L145.15 361.59 L145.84 361.55 L146.53 361.50 L147.21 361.45 L147.90 361.41 L148.59 361.36 L149.28 361.31 L149.97 361.26 L150.65 361.22 L151.34 361.17 L152.03 361.12 L152.72 361.07 L153.41 361.02 L154.10 360.96 L154.78 360.91 L155.47 360.86 L156.16 360.81 L156.85 360.75 L157.54 360.70 L158.22 360.64 L158.91 360.58 L159.60 360.52 L160.29 360.47 L160.98 360.41 L161.66 360.35 L162.35 360.29 L163.04 360.23 L163.73 360.16 L164.42 360.10 L165.10 360.04 L165.79 359.97 L166.48 359.91 L167.17 359.84 L167.86 359.78 L168.55 359.71 L169.23 359.65 L169.92 359.58 L170.61 359.51 L171.30 359.44 L171.99 359.37 L172.67 359.30 L173.36 359.23 L174.05 359.16 L174.74 359.08 L175.43 359.01 L176.11 358.94 L176.80 358.86 L177.49 358.79 L178.18 358.71 L178.87 358.64 L179.55 358.56 L180.24 358.48 L180.93 358.41 L181.62 358.33 L182.31 358.25 L183.00 358.17 L183.68 358.09 L184.37 358.01 L185.06 357.93 L185.75 357.85 L186.44 357.76 L187.12 357.68 L187.81 357.60 L188.50 357.51 L189.19 357.43 L189.88 357.34 L190.56 357.26 L191.25 357.17 L191.94 357.09 L192.63 357.00 L193.32 356.91 L194.00 356.82 L194.69 356.74 L195.38 356.65 L196.07 356.56 L196.76 356.47 L197.45 356.38 L198.13 356.29 L198.82 356.20 L199.51 356.10 L200.20 356.01 L200.89 355.92 L201.57 355.83 L202.26 355.73 L202.95 355.64 L203.64 355.54 L204.33 355.45 L205.01 355.35 L205.70 355.26 L206.39 355.16 L207.08 355.07 L207.77 354.97 L208.45 354.87 L209.14 354.77 L209.83 354.68 L210.52 354.58 L211.21 354.48 L211.90 354.38 L212.58 354.28 L213.27 354.18 L213.96 354.08 L214.65 353.98 L215.34 353.88 L216.02 353.78 L216.71 353.67 L217.40 353.57 L218.09 353.47 L218.78 353.37 L219.46 353.26 L220.15 353.16 L220.84 353.06 L221.53 352.95 L222.22 352.85 L222.90 352.74 L223.59 352.64 L224.28 352.53 L224.97 352.43 L225.66 352.32 L226.35 352.21 L227.03 352.11 L227.72 352.00 L228.41 351.89 L229.10 351.79 L229.79 351.68 L230.47 351.57 L231.16 351.46 L231.85 351.36 L232.54 351.25 L233.23 351.14 L233.91 351.03 L234.60 350.92 L235.29 350.81 L235.98 350.70 L236.67 350.59 L237.35 350.48 L238.04 350.37 L238.73 350.26 L239.42 350.15 L240.11 350.04 L240.80 349.93 L241.48 349.81 L242.17 349.70 L242.86 349.58 L243.55 349.46 L244.24 349.35 L244.92 349.23 L245.61 349.11 L246.30 348.99 L246.99 348.86 L247.68 348.74 L248.36 348.61 L249.05 348.49 L249.74 348.36 L250.43 348.23 L251.12 348.10 L251.80 347.97 L252.49 347.84 L253.18 347.71 L253.87 347.58 L254.56 347.44 L255.25 347.31 L255.93 347.17 L256.62 347.03 L257.31 346.89 L258.00 346.75 L258.69 346.61 L259.37 346.47 L260.06 346.33 L260.75 346.18 L261.44 346.04 L262.13 345.89 L262.81 345.75 L263.50 345.60 L264.19 345.45 L264.88 345.30 L265.57 345.15 L266.25 345.00 L266.94 344.84 L267.63 344.69 L268.32 344.54 L269.01 344.38 L269.70 344.22 L270.38 344.07 L271.07 343.91 L271.76 343.75 L272.45 343.59 L273.14 343.43 L273.82 343.26 L274.51 343.10 L275.20 342.94 L275.89 342.77 L276.58 342.61 L277.26 342.44 L277.95 342.27 L278.64 342.10 L279.33 341.93 L280.02 341.76 L280.70 341.59 L281.39 341.42 L282.08 341.25 L282.77 341.07 L283.46 340.90 L284.15 340.72 L284.83 340.55 L285.52 340.37 L286.21 340.19 L286.90 340.01 L287.59 339.82 L288.27 339.64 L288.96 339.45 L289.65 339.26 L290.34 339.06 L291.03 338.87 L291.71 338.67 L292.40 338.48 L293.09 338.28 L293.78 338.07 L294.47 337.87 L295.15 337.67 L295.84 337.46 L296.53 337.25 L297.22 337.04 L297.91 336.83 L298.60 336.62 L299.28 336.40 L299.97 336.19 L300.66 335.97 L301.35 335.75 L302.04 335.53 L302.72 335.31 L303.41 335.09 L304.10 334.86 L304.79 334.64 L305.48 334.41 L306.16 334.18 L306.85 333.95 L307.54 333.72 L308.23 333.49 L308.92 333.26 L309.60 333.03 L310.29 332.79 L310.98 332.56 L311.67 332.32 L312.36 332.08 L313.05 331.85 L313.73 331.61 L314.42 331.37 L315.11 331.13 L315.80 330.89 L316.49 330.65 L317.17 330.40 L317.86 330.16 L318.55 329.92 L319.24 329.67 L319.93 329.43 L320.61 329.19 L321.30 328.94 L321.99 328.70 L322.68 328.45 L323.37 328.20 L324.05 327.96 L324.74 327.71 L325.43 327.46 L326.12 327.22 L326.81 326.97 L327.50 326.72 L328.18 326.47 L328.87 326.22 L329.56 325.96 L330.25 325.70 L330.94 325.43 L331.62 325.16 L332.31 324.89 L333.00 324.62" fill="none" stroke="#ff0000" stroke-width="1.55" stroke-dasharray="13.1 4.4"/>
<path d="M58.45 377.21 L59.14 377.12 L59.83 377.03 L60.51 376.94 L61.20 376.85 L61.89 376.76 L62.58 376.67 L63.27 376.58 L63.95 376.49 L64.64 376.39 L65.33 376.30 L66.02 376.21 L66.71 376.11 L67.40 376.02 L68.08 375.92 L68.77 375.83 L69.46 375.73 L70.15 375.63 L70.84 375.53 L71.52 375.44 L72.21 375.34 L72.90 375.24 L73.59 375.14 L74.28 375.04 L74.96 374.94 L75.65 374.84 L76.34 374.73 L77.03 374.63 L77.72 374.53 L78.40 374.42 L79.09 374.32 L79.78 374.22 L80.47 374.11 L81.16 374.00 L81.85 373.90 L82.53 373.79 L83.22 373.68 L83.91 373.58 L84.60 373.47 L85.29 373.36 L85.97 373.25 L86.66 373.14 L87.35 373.03 L88.04 372.92 L88.73 372.81 L89.41 372.70 L90.10 372.59 L90.79 372.47 L91.48 372.36 L92.17 372.25 L92.85 372.13 L93.54 372.02 L94.23 371.90 L94.92 371.79 L95.61 371.67 L96.30 371.56 L96.98 371.44 L97.67 371.32 L98.36 371.20 L99.05 371.09 L99.74 370.97 L100.42 370.85 L101.11 370.73 L101.80 370.61 L102.49 370.49 L103.18 370.37 L103.86 370.25 L104.55 370.12 L105.24 370.00 L105.93 369.88 L106.62 369.76 L107.30 369.63 L107.99 369.51 L108.68 369.38 L109.37 369.26 L110.06 369.14 L110.75 369.01 L111.43 368.88 L112.12 368.76 L112.81 368.63 L113.50 368.50 L114.19 368.38 L114.87 368.25 L115.56 368.12 L116.25 367.99 L116.94 367.86 L117.63 367.73 L118.31 367.60 L119.00 367.47 L119.69 367.34 L120.38 367.21 L121.07 367.08 L121.75 366.95 L122.44 366.82 L123.13 366.68 L123.82 366.55 L124.51 366.42 L125.20 366.28 L125.88 366.15 L126.57 366.01 L127.26 365.88 L127.95 365.75 L128.64 365.61 L129.32 365.47 L130.01 365.34 L130.70 365.20 L131.39 365.06 L132.08 364.93 L132.76 364.79 L133.45 364.65 L134.14 364.51 L134.83 364.38 L135.52 364.24 L136.20 364.10 L136.89 363.96 L137.58 363.82 L138.27 363.68 L138.96 363.54 L139.65 363.40 L140.33 363.26 L141.02 363.12 L141.71 362.97 L142.40 362.83 L143.09 362.69 L143.77 362.55 L144.46 362.40 L145.15 362.26 L145.84 362.12 L146.53 361.97 L147.21 361.83 L147.90 361.69 L148.59 361.54 L149.28 361.40 L149.97 361.25 L150.65 361.10 L151.34 360.96 L152.03 360.81 L152.72 360.66 L153.41 360.51 L154.10 360.36 L154.78 360.21 L155.47 360.06 L156.16 359.90 L156.85 359.75 L157.54 359.60 L158.22 359.44 L158.91 359.28 L159.60 359.13 L160.29 358.97 L160.98 358.81 L161.66 358.65 L162.35 358.49 L163.04 358.33 L163.73 358.16 L164.42 358.00 L165.10 357.84 L165.79 357.67 L166.48 357.50 L167.17 357.34 L167.86 357.17 L168.55 357.00 L169.23 356.84 L169.92 356.67 L170.61 356.50 L171.30 356.33 L171.99 356.15 L172.67 355.98 L173.36 355.81 L174.05 355.64 L174.74 355.46 L175.43 355.29 L176.11 355.11 L176.80 354.94 L177.49 354.76 L178.18 354.58 L178.87 354.40 L179.55 354.23 L180.24 354.05 L180.93 353.87 L181.62 353.69 L182.31 353.51 L183.00 353.32 L183.68 353.14 L184.37 352.96 L185.06 352.78 L185.75 352.59 L186.44 352.41 L187.12 352.22 L187.81 352.04 L188.50 351.85 L189.19 351.67 L189.88 351.48 L190.56 351.29 L191.25 351.11 L191.94 350.92 L192.63 350.73 L193.32 350.54 L194.00 350.35 L194.69 350.16 L195.38 349.97 L196.07 349.78 L196.76 349.59 L197.45 349.40 L198.13 349.21 L198.82 349.02 L199.51 348.83 L200.20 348.63 L200.89 348.44 L201.57 348.25 L202.26 348.05 L202.95 347.86 L203.64 347.67 L204.33 347.47 L205.01 347.28 L205.70 347.08 L206.39 346.89 L207.08 346.69 L207.77 346.50 L208.45 346.30 L209.14 346.10 L209.83 345.91 L210.52 345.71 L211.21 345.51 L211.90 345.32 L212.58 345.12 L213.27 344.92 L213.96 344.72 L214.65 344.53 L215.34 344.33 L216.02 344.13 L216.71 343.93 L217.40 343.73 L218.09 343.53 L218.78 343.34 L219.46 343.14 L220.15 342.94 L220.84 342.74 L221.53 342.54 L222.22 342.34 L222.90 342.14 L223.59 341.94 L224.28 341.74 L224.97 341.54 L225.66 341.34 L226.35 341.14 L227.03 340.95 L227.72 340.75 L228.41 340.55 L229.10 340.35 L229.79 340.15 L230.47 339.95 L231.16 339.75 L231.85 339.55 L232.54 339.35 L233.23 339.15 L233.91 338.95 L234.60 338.75 L235.29 338.55 L235.98 338.36 L236.67 338.16 L237.35 337.96 L238.04 337.76 L238.73 337.56 L239.42 337.36 L240.11 337.17 L240.80 336.97 L241.48 336.77 L242.17 336.57 L242.86 336.37 L243.55 336.17 L244.24 335.97 L244.92 335.78 L245.61 335.58 L246.30 335.38 L246.99 335.18 L247.68 334.98 L248.36 334.78 L249.05 334.57 L249.74 334.37 L250.43 334.17 L251.12 333.97 L251.80 333.77 L252.49 333.57 L253.18 333.36 L253.87 333.16 L254.56 332.96 L255.25 332.75 L255.93 332.55 L256.62 332.34 L257.31 332.14 L258.00 331.93 L258.69 331.73 L259.37 331.52 L260.06 331.31 L260.75 331.11 L261.44 330.90 L262.13 330.69 L262.81 330.48 L263.50 330.27 L264.19 330.06 L264.88 329.85 L265.57 329.64 L266.25 329.43 L266.94 329.21 L267.63 329.00 L268.32 328.79 L269.01 328.57 L269.70 328.36 L270.38 328.14 L271.07 327.92 L271.76 327.71 L272.45 327.49 L273.14 327.27 L273.82 327.05 L274.51 326.83 L275.20 326.61 L275.89 326.39 L276.58 326.16 L277.26 325.94 L277.95 325.72 L278.64 325.49 L279.33 325.27 L280.02 325.04 L280.70 324.81 L281.39 324.58 L282.08 324.35 L282.77 324.12 L283.46 323.89 L284.15 323.66 L284.83 323.42 L285.52 323.19 L286.21 322.95 L286.90 322.72 L287.59 322.48 L288.27 322.24 L288.96 322.01 L289.65 321.77 L290.34 321.53 L291.03 321.28 L291.71 321.04 L292.40 320.80 L293.09 320.56 L293.78 320.31 L294.47 320.07 L295.15 319.82 L295.84 319.57 L296.53 319.32 L297.22 319.08 L297.91 318.83 L298.60 318.58 L299.28 318.33 L299.97 318.07 L300.66 317.82 L301.35 317.57 L302.04 317.31 L302.72 317.06 L303.41 316.80 L304.10 316.54 L304.79 316.29 L305.48 316.03 L306.16 315.77 L306.85 315.51 L307.54 315.25 L308.23 314.99 L308.92 314.72 L309.60 314.46 L310.29 314.20 L310.98 313.93 L311.67 313.67 L312.36 313.40 L313.05 313.13 L313.73 312.87 L314.42 312.60 L315.11 312.33 L315.80 312.06 L316.49 311.79 L317.17 311.52 L317.86 311.24 L318.55 310.97 L319.24 310.70 L319.93 310.42 L320.61 310.15 L321.30 309.87 L321.99 309.59 L322.68 309.32 L323.37 309.04 L324.05 308.76 L324.74 308.48 L325.43 308.20 L326.12 307.92 L326.81 307.64 L327.50 307.35 L328.18 307.07 L328.87 306.79 L329.56 306.50 L330.25 306.22 L330.94 305.93 L331.62 305.65 L332.31 305.36 L333.00 305.07" fill="none" stroke="#00ff00" stroke-width="1.55" stroke-dasharray="7.2 4.4"/>
<path d="M58.45 407.29 L59.14 406.92 L59.83 406.54 L60.51 406.17 L61.20 405.80 L61.89 405.42 L62.58 405.05 L63.27 404.68 L63.95 404.31 L64.64 403.94 L65.33 403.57 L66.02 403.20 L66.71 402.83 L67.40 402.46 L68.08 402.09 L68.77 401.72 L69.46 401.35 L70.15 400.99 L70.84 400.62 L71.52 400.25 L72.21 399.88 L72.90 399.52 L73.59 399.15 L74.28 398.79 L74.96 398.42 L75.65 398.06 L76.34 397.69 L77.03 397.33 L77.72 396.97 L78.40 396.60 L79.09 396.24 L79.78 395.88 L80.47 395.52 L81.16 395.16 L81.85 394.80 L82.53 394.44 L83.22 394.08 L83.91 393.72 L84.60 393.36 L85.29 393.00 L85.97 392.64 L86.66 392.28 L87.35 391.92 L88.04 391.57 L88.73 391.21 L89.41 390.85 L90.10 390.50 L90.79 390.14 L91.48 389.79 L92.17 389.43 L92.85 389.08 L93.54 388.73 L94.23 388.37 L94.92 388.02 L95.61 387.67 L96.30 387.32 L96.98 386.96 L97.67 386.61 L98.36 386.26 L99.05 385.91 L99.74 385.56 L100.42 385.21 L101.11 384.86 L101.80 384.51 L102.49 384.17 L103.18 383.82 L103.86 383.47 L104.55 383.12 L105.24 382.78 L105.93 382.43 L106.62 382.09 L107.30 381.74 L107.99 381.40 L108.68 381.05 L109.37 380.71 L110.06 380.36 L110.75 380.02 L111.43 379.68 L112.12 379.34 L112.81 379.00 L113.50 378.65 L114.19 378.31 L114.87 377.97 L115.56 377.63 L116.25 377.29 L116.94 376.96 L117.63 376.62 L118.31 376.28 L119.00 375.94 L119.69 375.60 L120.38 375.27 L121.07 374.93 L121.75 374.60 L122.44 374.26 L123.13 373.93 L123.82 373.59 L124.51 373.26 L125.20 372.92 L125.88 372.59 L126.57 372.26 L127.26 371.93 L127.95 371.59 L128.64 371.26 L129.32 370.93 L130.01 370.60 L130.70 370.27 L131.39 369.94 L132.08 369.61 L132.76 369.29 L133.45 368.96 L134.14 368.63 L134.83 368.30 L135.52 367.98 L136.20 367.65 L136.89 367.32 L137.58 367.00 L138.27 366.67 L138.96 366.35 L139.65 366.03 L140.33 365.70 L141.02 365.38 L141.71 365.06 L142.40 364.74 L143.09 364.42 L143.77 364.09 L144.46 363.77 L145.15 363.45 L145.84 363.13 L146.53 362.82 L147.21 362.50 L147.90 362.18 L148.59 361.86 L149.28 361.54 L149.97 361.23 L150.65 360.91 L151.34 360.60 L152.03 360.28 L152.72 359.97 L153.41 359.66 L154.10 359.34 L154.78 359.03 L155.47 358.72 L156.16 358.41 L156.85 358.10 L157.54 357.79 L158.22 357.48 L158.91 357.18 L159.60 356.87 L160.29 356.56 L160.98 356.26 L161.66 355.95 L162.35 355.65 L163.04 355.34 L163.73 355.04 L164.42 354.73 L165.10 354.43 L165.79 354.13 L166.48 353.83 L167.17 353.53 L167.86 353.23 L168.55 352.93 L169.23 352.63 L169.92 352.33 L170.61 352.03 L171.30 351.73 L171.99 351.44 L172.67 351.14 L173.36 350.84 L174.05 350.55 L174.74 350.25 L175.43 349.96 L176.11 349.66 L176.80 349.37 L177.49 349.08 L178.18 348.78 L178.87 348.49 L179.55 348.20 L180.24 347.91 L180.93 347.61 L181.62 347.32 L182.31 347.03 L183.00 346.74 L183.68 346.45 L184.37 346.16 L185.06 345.87 L185.75 345.58 L186.44 345.29 L187.12 345.01 L187.81 344.72 L188.50 344.43 L189.19 344.14 L189.88 343.85 L190.56 343.57 L191.25 343.28 L191.94 342.99 L192.63 342.71 L193.32 342.42 L194.00 342.13 L194.69 341.85 L195.38 341.56 L196.07 341.28 L196.76 340.99 L197.45 340.71 L198.13 340.42 L198.82 340.14 L199.51 339.85 L200.20 339.57 L200.89 339.29 L201.57 339.00 L202.26 338.72 L202.95 338.43 L203.64 338.15 L204.33 337.87 L205.01 337.58 L205.70 337.30 L206.39 337.02 L207.08 336.73 L207.77 336.45 L208.45 336.17 L209.14 335.88 L209.83 335.60 L210.52 335.32 L211.21 335.03 L211.90 334.75 L212.58 334.47 L213.27 334.19 L213.96 333.90 L214.65 333.62 L215.34 333.34 L216.02 333.05 L216.71 332.77 L217.40 332.49 L218.09 332.21 L218.78 331.92 L219.46 331.64 L220.15 331.36 L220.84 331.07 L221.53 330.79 L222.22 330.51 L222.90 330.22 L223.59 329.94 L224.28 329.65 L224.97 329.37 L225.66 329.09 L226.35 328.80 L227.03 328.52 L227.72 328.23 L228.41 327.95 L229.10 327.66 L229.79 327.38 L230.47 327.09 L231.16 326.81 L231.85 326.52 L232.54 326.23 L233.23 325.95 L233.91 325.66 L234.60 325.37 L235.29 325.09 L235.98 324.80 L236.67 324.51 L237.35 324.22 L238.04 323.94 L238.73 323.65 L239.42 323.36 L240.11 323.07 L240.80 322.78 L241.48 322.49 L242.17 322.20 L242.86 321.91 L243.55 321.63 L244.24 321.34 L244.92 321.05 L245.61 320.76 L246.30 320.47 L246.99 320.19 L247.68 319.90 L248.36 319.61 L249.05 319.32 L249.74 319.04 L250.43 318.75 L251.12 318.46 L251.80 318.17 L252.49 317.89 L253.18 317.60 L253.87 317.31 L254.56 317.03 L255.25 316.74 L255.93 316.45 L256.62 316.17 L257.31 315.88 L258.00 315.59 L258.69 315.30 L259.37 315.02 L260.06 314.73 L260.75 314.44 L261.44 314.16 L262.13 313.87 L262.81 313.59 L263.50 313.30 L264.19 313.01 L264.88 312.73 L265.57 312.44 L266.25 312.15 L266.94 311.87 L267.63 311.58 L268.32 311.29 L269.01 311.01 L269.70 310.72 L270.38 310.43 L271.07 310.15 L271.76 309.86 L272.45 309.57 L273.14 309.29 L273.82 309.00 L274.51 308.71 L275.20 308.43 L275.89 308.14 L276.58 307.85 L277.26 307.56 L277.95 307.28 L278.64 306.99 L279.33 306.70 L280.02 306.42 L280.70 306.13 L281.39 305.84 L282.08 305.55 L282.77 305.26 L283.46 304.98 L284.15 304.69 L284.83 304.40 L285.52 304.11 L286.21 303.82 L286.90 303.54 L287.59 303.25 L288.27 302.96 L288.96 302.67 L289.65 302.38 L290.34 302.09 L291.03 301.81 L291.71 301.52 L292.40 301.23 L293.09 300.94 L293.78 300.65 L294.47 300.36 L295.15 300.08 L295.84 299.79 L296.53 299.50 L297.22 299.21 L297.91 298.92 L298.60 298.63 L299.28 298.34 L299.97 298.05 L300.66 297.77 L301.35 297.48 L302.04 297.19 L302.72 296.90 L303.41 296.61 L304.10 296.32 L304.79 296.03 L305.48 295.74 L306.16 295.45 L306.85 295.17 L307.54 294.88 L308.23 294.59 L308.92 294.30 L309.60 294.01 L310.29 293.72 L310.98 293.43 L311.67 293.14 L312.36 292.85 L313.05 292.56 L313.73 292.27 L314.42 291.99 L315.11 291.70 L315.80 291.41 L316.49 291.12 L317.17 290.83 L317.86 290.54 L318.55 290.25 L319.24 289.96 L319.93 289.67 L320.61 289.38 L321.30 289.09 L321.99 288.80 L322.68 288.51 L323.37 288.22 L324.05 287.93 L324.74 287.64 L325.43 287.35 L326.12 287.06 L326.81 286.77 L327.50 286.48 L328.18 286.19 L328.87 285.90 L329.56 285.61 L330.25 285.32 L330.94 285.03 L331.62 284.74 L332.31 284.45 L333.00 284.16" fill="none" stroke="#0000ff" stroke-width="1.55" stroke-dasharray="2.7 3.1"/>
<rect x="50.5" y="249.3" width="290.5" height="179.8" fill="none" stroke="#000" stroke-width="1.5"/>
<path d="M58.45 429.1v-5.7M58.45 249.3v5.7M72.18 429.1v-3.5M72.18 249.3v3.5M85.91 429.1v-3.5M85.91 249.3v3.5M99.63 429.1v-3.5M99.63 249.3v3.5M113.36 429.1v-5.7M113.36 249.3v5.7M127.09 429.1v-3.5M127.09 249.3v3.5M140.81 429.1v-3.5M140.81 249.3v3.5M154.54 429.1v-3.5M154.54 249.3v3.5M168.27 429.1v-5.7M168.27 249.3v5.7M182.00 429.1v-3.5M182.00 249.3v3.5M195.73 429.1v-3.5M195.73 249.3v3.5M209.45 429.1v-3.5M209.45 249.3v3.5M223.18 429.1v-5.7M223.18 249.3v5.7M236.91 429.1v-3.5M236.91 249.3v3.5M250.64 429.1v-3.5M250.64 249.3v3.5M264.36 429.1v-3.5M264.36 249.3v3.5M278.09 429.1v-5.7M278.09 249.3v5.7M291.82 429.1v-3.5M291.82 249.3v3.5M305.55 429.1v-3.5M305.55 249.3v3.5M319.27 429.1v-3.5M319.27 249.3v3.5M333.00 429.1v-5.7M333.00 249.3v5.7M50.5 421.00h5.7M341.0 421.00h-5.7M50.5 407.43h3.5M341.0 407.43h-3.5M50.5 393.85h3.5M341.0 393.85h-3.5M50.5 380.28h3.5M341.0 380.28h-3.5M50.5 366.70h5.7M341.0 366.70h-5.7M50.5 353.12h3.5M341.0 353.12h-3.5M50.5 339.55h3.5M341.0 339.55h-3.5M50.5 325.98h3.5M341.0 325.98h-3.5M50.5 312.40h5.7M341.0 312.40h-5.7M50.5 298.83h3.5M341.0 298.83h-3.5M50.5 285.25h3.5M341.0 285.25h-3.5M50.5 271.68h3.5M341.0 271.68h-3.5M50.5 258.10h5.7M341.0 258.10h-5.7" stroke="#000" stroke-width="1.5" fill="none"/>
<text x="47.70" y="263.10" font-size="16" text-anchor="end" textLength="21.3" lengthAdjust="spacingAndGlyphs">1.1</text>
<text x="47.70" y="317.40" font-size="16" text-anchor="end" textLength="21.3" lengthAdjust="spacingAndGlyphs">0.9</text>
<text x="47.70" y="371.70" font-size="16" text-anchor="end" textLength="21.3" lengthAdjust="spacingAndGlyphs">0.7</text>
<text x="47.70" y="426.00" font-size="16" text-anchor="end" textLength="21.3" lengthAdjust="spacingAndGlyphs">0.5</text>
<text x="58.45" y="446.20" font-size="16" text-anchor="middle" textLength="21.3" lengthAdjust="spacingAndGlyphs">0.0</text>
<text x="113.36" y="446.20" font-size="16" text-anchor="middle" textLength="21.3" lengthAdjust="spacingAndGlyphs">0.2</text>
<text x="168.27" y="446.20" font-size="16" text-anchor="middle" textLength="21.3" lengthAdjust="spacingAndGlyphs">0.4</text>
<text x="223.18" y="446.20" font-size="16" text-anchor="middle" textLength="21.3" lengthAdjust="spacingAndGlyphs">0.6</text>
<text x="278.09" y="446.20" font-size="16" text-anchor="middle" textLength="21.3" lengthAdjust="spacingAndGlyphs">0.8</text>
<text x="333.00" y="446.20" font-size="16" text-anchor="middle" textLength="21.3" lengthAdjust="spacingAndGlyphs">1.0</text>
<g transform="translate(15.4 374.90) rotate(-90)">
<text x="0.00" y="0.00" font-size="16" font-style="italic">k</text>
<text x="7.30" y="2.40" font-size="11.4" font-style="italic">B</text>
<text x="15.70" y="0.00" font-size="16" font-style="italic">T</text>
<text x="23.70" y="2.40" font-size="11.4" font-style="italic">C</text>
<text x="36.50" y="2.20" font-size="18">/</text>
<text x="46.40" y="0.00" font-size="16" font-style="italic">J</text>
<text x="54.40" y="4.40" font-size="11.4" font-style="italic">z</text>
<text x="56.50" y="-7.90" font-size="10.8" stroke="#000" stroke-width="0.25">AA</text>
</g>
<text x="164.00" y="472.10" font-size="16" font-style="italic">J</text>
<text x="172.00" y="476.50" font-size="11.4" font-style="italic">z</text>
<text x="174.10" y="464.20" font-size="10.8" stroke="#000" stroke-width="0.25">BB</text>
<text x="193.00" y="474.30" font-size="18">/</text>
<text x="202.90" y="472.10" font-size="16" font-style="italic">J</text>
<text x="210.90" y="476.50" font-size="11.4" font-style="italic">z</text>
<text x="213.00" y="464.20" font-size="10.8" stroke="#000" stroke-width="0.25">AA</text>
<text x="194.90" y="273.00" font-size="15.5" text-anchor="middle">(b)</text>
<path d="M71.70 293.30H104.20" stroke="#0000ff" stroke-width="1.45" stroke-dasharray="2.7 3.1"/>
<text x="111.20" y="297.30" font-size="11.7">2.0</text>
<path d="M71.70 309.70H104.20" stroke="#00ff00" stroke-width="1.45" stroke-dasharray="7.2 4.4"/>
<text x="111.20" y="313.70" font-size="11.7">1.0</text>
<path d="M71.70 326.00H104.20" stroke="#ff0000" stroke-width="1.45" stroke-dasharray="13.1 4.4"/>
<text x="111.20" y="330.00" font-size="11.7">0.5</text>
<path d="M71.70 342.40H104.20" stroke="#000000" stroke-width="1.45"/>
<text x="111.20" y="346.40" font-size="11.7">0.1</text>
<text x="98.90" y="276.30" font-size="11.8" font-style="italic">J</text>
<text x="104.50" y="279.70" font-size="9.4" font-style="italic">z</text>
<text x="105.90" y="269.90" font-size="8.5" stroke="#000" stroke-width="0.25">AB</text>
<path d="M120.20 267.00L117.50 277.50" stroke="#000" stroke-width="1.0"/>
<text x="121.10" y="276.30" font-size="11.8" font-style="italic">J</text>
<text x="126.80" y="279.70" font-size="9.4" font-style="italic">z</text>
<text x="128.50" y="269.90" font-size="8.5" stroke="#000" stroke-width="0.25">AA</text>
<g transform="translate(2.3 0)">
<text x="123.90" y="413.20" font-size="11.5" font-style="italic">J</text>
<path d="M130.00 414.80H134.80M132.40 414.80V412.50" stroke="#000" stroke-width="0.75" fill="none"/>
<text x="131.50" y="407.30" font-size="8.5" stroke="#000" stroke-width="0.25">AA</text>
<path d="M145.70 404.70L143.10 415.10" stroke="#000" stroke-width="1.0"/>
<text x="146.70" y="413.20" font-size="11.5" font-style="italic">J</text>
<text x="152.20" y="416.30" font-size="9.2" font-style="italic">z</text>
<text x="153.70" y="407.30" font-size="8.5" stroke="#000" stroke-width="0.25">AA</text>
<text x="169.00" y="413.50" font-size="11">=</text>
<text x="179.90" y="413.20" font-size="11.5" font-style="italic">J</text>
<path d="M186.00 414.80H190.80M188.40 414.80V412.50" stroke="#000" stroke-width="0.75" fill="none"/>
<text x="187.50" y="407.30" font-size="8.5" stroke="#000" stroke-width="0.25">BB</text>
<path d="M201.70 404.70L199.10 415.10" stroke="#000" stroke-width="1.0"/>
<text x="202.70" y="413.20" font-size="11.5" font-style="italic">J</text>
<text x="208.20" y="416.30" font-size="9.2" font-style="italic">z</text>
<text x="209.70" y="407.30" font-size="8.5" stroke="#000" stroke-width="0.25">BB</text>
<text x="225.00" y="413.50" font-size="11">=</text>
<text x="235.20" y="413.20" font-size="11">0</text>
<text x="245.60" y="413.20" font-size="11">,</text>
<text x="257.90" y="413.20" font-size="11.5" font-style="italic">J</text>
<path d="M264.00 414.80H268.80M266.40 414.80V412.50" stroke="#000" stroke-width="0.75" fill="none"/>
<text x="265.50" y="407.30" font-size="8.5" stroke="#000" stroke-width="0.25">AB</text>
<path d="M279.70 404.70L277.10 415.10" stroke="#000" stroke-width="1.0"/>
<text x="280.70" y="413.20" font-size="11.5" font-style="italic">J</text>
<text x="286.20" y="416.30" font-size="9.2" font-style="italic">z</text>
<text x="287.70" y="407.30" font-size="8.5" stroke="#000" stroke-width="0.25">AB</text>
<text x="303.10" y="413.50" font-size="11">=</text>
<text x="313.40" y="413.20" font-size="11">1</text>
</g>
</svg>
</body>
</html>
